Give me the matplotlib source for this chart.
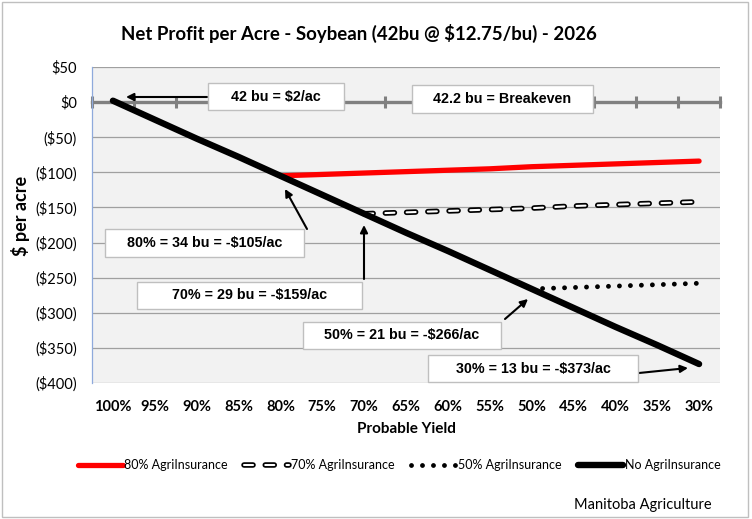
import numpy as np
import matplotlib
matplotlib.use("Agg")
import matplotlib.pyplot as plt
from matplotlib.patches import Rectangle
import matplotlib.patheffects as pe

plt.rcParams['font.family'] = ['Lato', 'DejaVu Sans']
plt.rcParams['lines.scale_dashes'] = False

# ---------------- data ----------------
categories = ['100%', '95%', '90%', '85%', '80%', '75%', '70%', '65%',
              '60%', '55%', '50%', '45%', '40%', '35%', '30%']
no_insurance = [2, -25, -52, -78, -105, -132, -159, -186, -212, -239,
                -266, -293, -320, -346, -373]
ins80 = [None, None, None, None, -105, -103, -101, -99, -97, -95, -92,
         -90, -88, -86, -84]
ins70 = [None, None, None, None, None, None, -159, -157, -155, -153,
         -151, -148, -146, -144, -142]
ins50 = [None] * 10 + [-266, -264, -262, -260, -258]
series_labels = ['80% AgriInsurance', '70% AgriInsurance',
                 '50% AgriInsurance', 'No AgriInsurance']
y_ticks = [50, 0, -50, -100, -150, -200, -250, -300, -350, -400]
title = 'Net Profit per Acre - Soybean (42bu @ $12.75/bu) - 2026'
annotations = ['42 bu = $2/ac', '42.2 bu = Breakeven',
               '80% = 34 bu = -$105/ac', '70% = 29 bu = -$159/ac',
               '50% = 21 bu = -$266/ac', '30% = 13 bu = -$373/ac']


def to_arr(v):
    return np.array([np.nan if a is None else a for a in v], dtype=float)


W, H = 752, 519
fig = plt.figure(figsize=(W / 100, H / 100), dpi=100)
fig.patch.set_facecolor('white')
fig.add_artist(Rectangle((2 / W, 2 / H), 746 / W, 515 / H, transform=fig.transFigure,
                         fill=False, ec='#BFBFBF', lw=1.0))

ax = fig.add_axes([92 / W, 1 - 383 / H, 628 / W, 316 / H])
ax.set_facecolor('#F2F2F2')
x = np.arange(len(categories))

ax.set_xlim(-0.5, len(categories) - 0.5)
ax.set_ylim(-400, 50)

# grid
ax.set_yticks(y_ticks)
ax.set_yticklabels(['$' + str(v) if v >= 0 else '($' + str(-v) + ')' for v in y_ticks],
                   fontsize=10.5)
ax.yaxis.grid(True, color='#A0A0A0', lw=0.9)
ax.set_axisbelow(True)
ax.tick_params(axis='y', length=0, pad=11)

for s in ['top', 'right']:
    ax.spines[s].set_visible(False)
ax.spines['left'].set_color('#8FAADC')
ax.spines['left'].set_linewidth(0.9)

# zero axis line with tick marks at category boundaries
ax.spines['bottom'].set_position(('data', 0))
ax.spines['bottom'].set_color('#808080')
ax.spines['bottom'].set_linewidth(2.4)
ax.spines['bottom'].set_zorder(2.2)
ax.set_xticks(np.arange(-0.5, len(categories), 1.0))
ax.tick_params(axis='x', direction='inout', length=8, width=2.2, color='#808080',
               labelbottom=False)

sec = ax.secondary_xaxis('bottom')
sec.set_xticks(x)
sec.set_xticklabels(categories, fontsize=10.5, fontweight='bold')
sec.tick_params(length=0, pad=12)
sec.spines['bottom'].set_visible(False)
sec.set_xlabel('Probable Yield', fontsize=11, fontweight='bold', labelpad=6)

# series
l80, = ax.plot(x, to_arr(ins80), color='#FF0000', lw=3.8, solid_capstyle='round',
               zorder=3, label=series_labels[0])
l70, = ax.plot(x, to_arr(ins70), color='white', lw=1.5, linestyle=(0, (6.5, 8.8)),
               dash_capstyle='round', zorder=3, label=series_labels[1],
               path_effects=[pe.Stroke(linewidth=4.0, foreground='black'), pe.Normal()])
l50, = ax.plot(x, to_arr(ins50), color='black', lw=3.5, linestyle=(0, (0.01, 7.9)),
               dash_capstyle='round', zorder=3, label=series_labels[2])
l0, = ax.plot(x, to_arr(no_insurance), color='black', lw=4.6, solid_capstyle='round',
              zorder=3.5, label=series_labels[3])

# labels
fig.text(359 / W, 1 - 33 / H, title, ha='center', va='center', fontsize=13.4,
         fontweight='bold')
fig.text(20 / W, 1 - 216 / H, '$ per acre', rotation=90, ha='center', va='center',
         fontsize=13, fontweight='bold')
fig.text(712 / W, 1 - 505 / H, 'Manitoba Agriculture', ha='right', va='center',
         fontsize=10.5)

leg = fig.legend(handles=[l80, l70, l50, l0], loc='center', bbox_to_anchor=(399 / W, 1 - 465 / H),
                 ncol=4, frameon=False, fontsize=9.0, handlelength=3.6,
                 handletextpad=0.15, columnspacing=1.3)


# annotation boxes (figure pixel layout)
def box(x0, y0, x1, y1, text):
    fig.add_artist(Rectangle((x0 / W, 1 - y1 / H), (x1 - x0) / W, (y1 - y0) / H,
                             transform=fig.transFigure, fc='white', ec='#BFBFBF',
                             lw=1.0, zorder=6))
    t = fig.text((x0 + x1) / 2 / W, 1 - (y0 + y1) / 2 / H, text, ha='center',
                 va='center', fontsize=10.3, fontweight='bold',
                 family=['Liberation Sans', 'DejaVu Sans'], zorder=7)
    return t


def arrow(xa, ya, xb, yb):
    ax.annotate('', xy=(xb, H - yb), xycoords='figure pixels',
                xytext=(xa, H - ya), textcoords='figure pixels',
                arrowprops=dict(arrowstyle='-|>', color='black', lw=1.5,
                                mutation_scale=11, shrinkA=0, shrinkB=0),
                zorder=5, annotation_clip=False)


box(208, 83, 344, 110, annotations[0])
box(412, 85, 593, 113, annotations[1])
box(105, 229, 304, 257, annotations[2])
box(137, 282, 362, 309, annotations[3])
box(303, 322, 501, 349, annotations[4])
box(428, 355, 638, 382, annotations[5])

arrow(207, 97, 126, 97)
arrow(307, 229, 285, 189)
arrow(364, 279, 364, 225)
arrow(505, 319, 528, 299)
arrow(639, 373, 688, 368)

fig.savefig('out.png', dpi=100)
